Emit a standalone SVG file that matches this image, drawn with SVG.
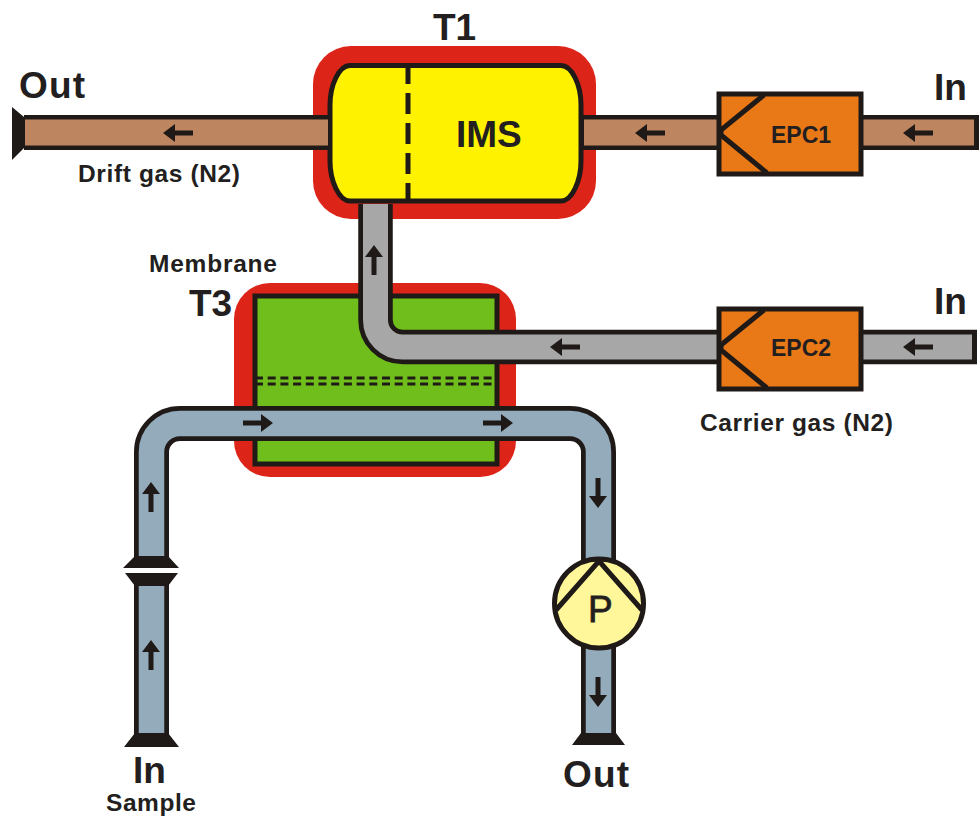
<svg xmlns="http://www.w3.org/2000/svg" xmlns:xlink="http://www.w3.org/1999/xlink" width="979" height="816" viewBox="0 0 979 816">
<style>
text{font-family:"Liberation Sans",Arial,sans-serif;font-weight:bold;fill:#231f20}
.big{font-size:37px}
.mid{font-size:24.5px}
.epc{font-size:23px}
.o{fill:none;stroke:#1f1a17;stroke-width:35}
.b{fill:none;stroke:#bd8560;stroke-width:26}
.g{fill:none;stroke:#a7a7a7;stroke-width:25}
.go{fill:none;stroke:#1f1a17;stroke-width:34.500}
.bl{fill:none;stroke:#94abbb;stroke-width:25.500}
.k{fill:#1f1a17}
.box{stroke:#1f1a17;stroke-width:5}
.ln{fill:none;stroke:#1f1a17;stroke-width:5}
</style>
<defs>
<g id="arrow"><path d="M-15 0L-3 -9V-2.500H15V2.500H-3V9Z" fill="#1f1a17"/></g>
</defs>
<rect width="979" height="816" fill="#fff"/>

<g id="T3">
<rect x="234" y="283" width="282" height="194" rx="36" fill="#dd2419"/>
<rect x="255" y="296" width="242" height="168" fill="#6fbe1b" class="box"/>
<path d="M255 378H497M255 384H497" fill="none" stroke="#1f1a17" stroke-width="3" stroke-dasharray="8 4.700"/>
<text x="189" y="316" class="big">T3</text>
<text x="149" y="272" class="mid" textLength="128">Membrane</text>
</g>

<g id="IMS">
<rect x="313" y="46" width="283" height="173" rx="38" fill="#dd2419"/>
<path d="M350 65.500H561C572 65.500 581 85 581 105V161C581 181 572 201 561 201H350C339 201 330 181 330 161V105C330 85 339 65.500 350 65.500Z" fill="#fff200" class="box"/>
<path d="M408 63V203" fill="none" stroke="#1f1a17" stroke-width="5" stroke-dasharray="21 9"/>
<text x="456" y="147" class="big">IMS</text>
<text x="433" y="40" class="big">T1</text>
</g>

<g id="connectors">
<path class="o" d="M24 132.500H328"/><path class="b" d="M25 132.500H328"/>
<polygon class="k" points="12,107 24,117 24,148 12,160"/>
<path class="o" d="M582 132.500H720"/><path class="b" d="M584 132.500H720"/>
<path class="o" d="M860 132.500H979"/><path class="b" d="M860 132.500H974"/>
<rect class="k" x="974" y="115" width="5" height="35"/>

<path class="go" d="M375.500 204V320A27 27 0 0 0 402.500 347H720"/>
<path class="g" d="M375.500 204V320A27 27 0 0 0 402.500 347H720"/>
<path class="go" d="M860 347H977"/><path class="g" d="M860 347H972"/>

<path class="o" d="M151.500 558V452A28.500 28.500 0 0 1 180 423.500H570A28.500 28.500 0 0 1 598.500 452V562"/>
<path class="bl" d="M151.500 558V452A28.500 28.500 0 0 1 180 423.500H570A28.500 28.500 0 0 1 598.500 452V562"/>
<polygon class="k" points="135,556 168,556 179,568 123,568"/>
<polygon class="k" points="125,573 178,573 168,586 135,586"/>
<path class="o" d="M151.500 584V735"/><path class="bl" d="M151.500 586V733"/>
<polygon class="k" points="135,733 168,733 179,747 124,747"/>
<path class="o" d="M598.500 640V735"/><path class="bl" d="M598.500 640V733"/>
<polygon class="k" points="581,733 616,733 625,745 572,745"/>

<use xlink:href="#arrow" href="#arrow" transform="translate(178 133)"/>
<use xlink:href="#arrow" href="#arrow" transform="translate(650 133)"/>
<use xlink:href="#arrow" href="#arrow" transform="translate(918 133)"/>
<use xlink:href="#arrow" href="#arrow" transform="translate(565 347)"/>
<use xlink:href="#arrow" href="#arrow" transform="translate(918 347)"/>
<use xlink:href="#arrow" href="#arrow" transform="translate(374 260) rotate(90)"/>
<use xlink:href="#arrow" href="#arrow" transform="translate(258 423) rotate(180)"/>
<use xlink:href="#arrow" href="#arrow" transform="translate(498 423) rotate(180)"/>
<use xlink:href="#arrow" href="#arrow" transform="translate(151 497) rotate(90)"/>
<use xlink:href="#arrow" href="#arrow" transform="translate(151 655) rotate(90)"/>
<use xlink:href="#arrow" href="#arrow" transform="translate(598 493) rotate(-90)"/>
<use xlink:href="#arrow" href="#arrow" transform="translate(598 692) rotate(-90)"/>
</g>

<g id="EPC1">
<rect x="719" y="94" width="142" height="80" fill="#e97817" class="box"/>
<path class="ln" d="M764 95L721 130V135L767 173"/>
<text x="771" y="143" class="epc">EPC1</text>
</g>
<g id="EPC2">
<rect x="719" y="309" width="142" height="80" fill="#e97817" class="box"/>
<path class="ln" d="M764 310L721 345V350L767 388"/>
<text x="771" y="356" class="epc">EPC2</text>
</g>
<g id="Pump">
<circle cx="599" cy="603.500" r="44.500" fill="#fff799" stroke="#1f1a17" stroke-width="5"/>
<path class="ln" d="M556 610L599 561L642 610"/>
<text x="588" y="622" style="font-weight:normal;stroke:#231f20;stroke-width:.8" class="big">P</text>
</g>

<g id="labels">
<text x="19" y="98" class="big" textLength="66">Out</text>
<text x="934" y="100" class="big">In</text>
<text x="934" y="314" class="big">In</text>
<text x="78" y="182" class="mid" textLength="162">Drift gas (N2)</text>
<text x="700" y="431" class="mid" textLength="193">Carrier gas (N2)</text>
<text x="133" y="783" class="big">In</text>
<text x="106" y="811" class="mid" textLength="90">Sample</text>
<text x="563" y="787" class="big" textLength="66">Out</text>
</g>
</svg>
